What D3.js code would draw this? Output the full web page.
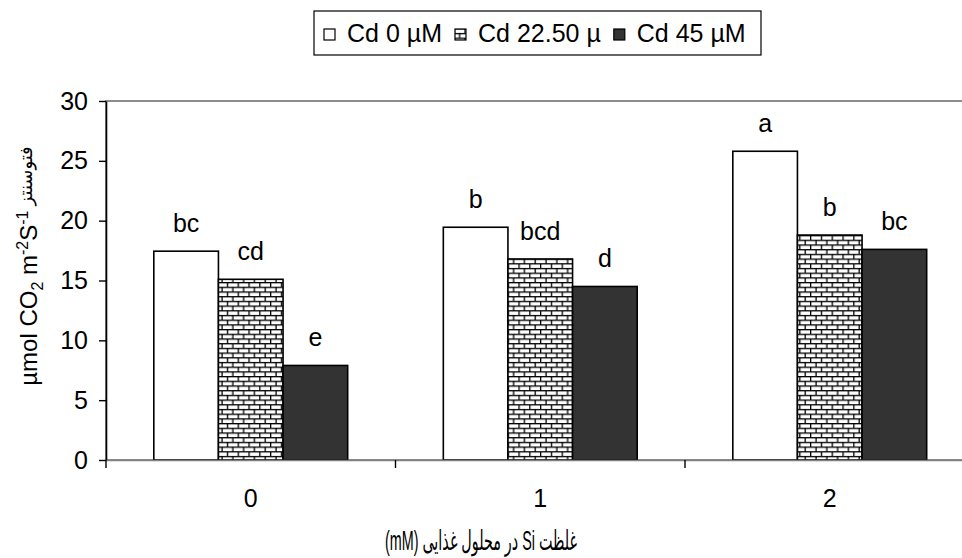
<!DOCTYPE html>
<html>
  <head>
    <meta charset="utf-8">
    <script src="https://d3js.org/d3.v7.min.js"></script>
    <title>Photosynthesis vs Si and Cd</title>
    <style>
      body { margin: 0; background: #fff; }
      text { font-family: Arial, "Liberation Sans", "DejaVu Sans", sans-serif; fill: #000; }
    </style>
  </head>
  <body>
    <svg width="962" height="558"></svg>

  <script>

      // data
      var categories = ["0", "1", "2"];
      var seriesNames = ["Cd 0 µM", "Cd 22.50 µ", "Cd 45 µM"];
      var cd0 = [17.45, 19.45, 25.8];
      var cd22 = [15.1, 16.8, 18.8];
      var cd45 = [7.9, 14.5, 17.6];
      var letters0 = ["bc", "b", "a"];
      var letters22 = ["cd", "bcd", "b"];
      var letters45 = ["e", "d", "bc"];
      var yTicks = [0, 5, 10, 15, 20, 25, 30];

      var seriesValues = [cd0, cd22, cd45];
      var seriesLetters = [letters0, letters22, letters45];
      var fills = ["#ffffff", "url(#brick)", "#333333"];

      var svg = d3.select('svg');
      var w = 962;
      var h = 558;
      var margin = {left: 106, top: 101, bottom: 98};
      var catWidth = 289.5;

      var xScale = d3.scaleBand()
        .domain(categories)
        .range([margin.left, margin.left + catWidth * categories.length]);

      var xSub = d3.scaleBand()
        .domain(seriesNames)
        .range([0, xScale.bandwidth()])
        .paddingOuter(0.74);

      var yScale = d3.scaleLinear()
        .domain([0, 30])
        .range([h - margin.bottom, margin.top]);

      // brick pattern
      var pat = svg.append("defs").append("pattern")
        .attr("id", "brick")
        .attr("patternUnits", "userSpaceOnUse")
        .attr("width", 10.8)
        .attr("height", 9.4);
      pat.append("rect").attr("width", 10.8).attr("height", 9.4).attr("fill", "#000");
      pat.append("rect").attr("x", 1.3).attr("y", 1.3).attr("width", 9.5).attr("height", 3.4).attr("fill", "#fff");
      pat.append("rect").attr("x", -4.1).attr("y", 6).attr("width", 9.5).attr("height", 3.4).attr("fill", "#fff");
      pat.append("rect").attr("x", 6.7).attr("y", 6).attr("width", 9.5).attr("height", 3.4).attr("fill", "#fff");

      // plot area frame (grey)
      svg.append("rect")
        .attr("x", xScale.range()[0])
        .attr("y", yScale(30))
        .attr("width", xScale.range()[1] - xScale.range()[0])
        .attr("height", yScale(0) - yScale(30))
        .attr("fill", "none")
        .attr("stroke", "#8c8c8c")
        .attr("stroke-width", 2);

      var rows = [];
      seriesNames.forEach(function(s, i) {
        categories.forEach(function(c, j) {
          rows.push({cat: c, series: s, value: seriesValues[i][j], letter: seriesLetters[i][j], fill: fills[i]});
        });
      });

      var bars = svg.append("g").attr("id", "plot");

      bars.selectAll("rect")
        .data(rows)
        .enter().append("rect")
        .attr("x", d => xScale(d.cat) + xSub(d.series))
        .attr("y", d => yScale(d.value))
        .attr("width", xSub.bandwidth())
        .attr("height", d => yScale(0) - yScale(d.value))
        .attr("fill", d => d.fill)
        .attr("stroke", "#000")
        .attr("stroke-width", 1.6);

      bars.selectAll("text")
        .data(rows)
        .enter().append("text")
        .attr("x", d => xScale(d.cat) + xSub(d.series) + xSub.bandwidth() / 2)
        .attr("y", d => yScale(d.value) - 19)
        .attr("text-anchor", "middle")
        .style("font-size", "25px")
        .text(d => d.letter);

      // y axis
      var yAxis = svg.append("g")
        .attr("transform", `translate(${margin.left}, 0)`)
        .call(d3.axisLeft(yScale).tickValues(yTicks).tickSize(7).tickSizeOuter(0).tickPadding(11));
      yAxis.attr("font-family", null).attr("font-size", null);
      yAxis.select(".domain").attr("stroke", "#000").attr("stroke-width", 1.6);
      yAxis.selectAll(".tick line").attr("stroke", "#000").attr("stroke-width", 1.4);
      yAxis.selectAll("text").style("font-size", "25px");

      // x axis
      var xAxis = svg.append("g")
        .attr("transform", `translate(0, ${yScale(0)})`)
        .call(d3.axisBottom(xScale).tickSize(0).tickSizeOuter(0).tickPadding(29));
      xAxis.attr("font-family", null).attr("font-size", null);
      xAxis.select(".domain").attr("stroke", "#808080").attr("stroke-width", 1.6);
      xAxis.selectAll("text").style("font-size", "25px");

      svg.append("g").selectAll("line")
        .data(categories)
        .enter().append("line")
        .attr("x1", d => xScale(d))
        .attr("x2", d => xScale(d))
        .attr("y1", yScale(0))
        .attr("y2", yScale(0) + 8)
        .attr("stroke", "#000")
        .attr("stroke-width", 1.4);

      // y axis title
      var yTitle = svg.append("text")
        .attr("transform", "translate(37, 266) rotate(-90)")
        .attr("text-anchor", "middle")
        .style("font-size", "24px");
      yTitle.append("tspan").text("µmol CO");
      yTitle.append("tspan").attr("dy", 6).style("font-size", "16px").text("2");
      yTitle.append("tspan").attr("dy", -6).text(" m");
      yTitle.append("tspan").attr("dy", -9).style("font-size", "16px").text("-2");
      yTitle.append("tspan").attr("dy", 9).text("S");
      yTitle.append("tspan").attr("dy", -9).style("font-size", "16px").text("-1");
      yTitle.append("tspan").attr("dy", 4).style("font-size", "18px").text(" فتوسنتز");

      // x axis title
      svg.append("text")
        .attr("x", 481)
        .attr("y", 550)
        .attr("text-anchor", "middle")
        .attr("direction", "rtl")
        .attr("textLength", 192)
        .attr("lengthAdjust", "spacingAndGlyphs")
        .style("font-size", "27px")
        .text("غلظت Si در محلول غذایی (mM)");

      // legend
      var legend = svg.append("g");
      legend.append("rect")
        .attr("x", 314)
        .attr("y", 11)
        .attr("width", 447)
        .attr("height", 44)
        .attr("fill", "#fff")
        .attr("stroke", "#000")
        .attr("stroke-width", 1.2);

      var cursor = 324;
      seriesNames.forEach(function(s, i) {
        legend.append("rect")
          .attr("x", cursor)
          .attr("y", 29)
          .attr("width", 11)
          .attr("height", 11)
          .attr("fill", fills[i])
          .attr("stroke", "#000")
          .attr("stroke-width", 1.2);
        var t = legend.append("text")
          .attr("x", cursor + 23)
          .attr("y", 42)
          .style("font-size", "25px")
          .text(s);
        cursor = cursor + 23 + t.node().getComputedTextLength() + 13;
      });

  </script>
  </body>
</html>
